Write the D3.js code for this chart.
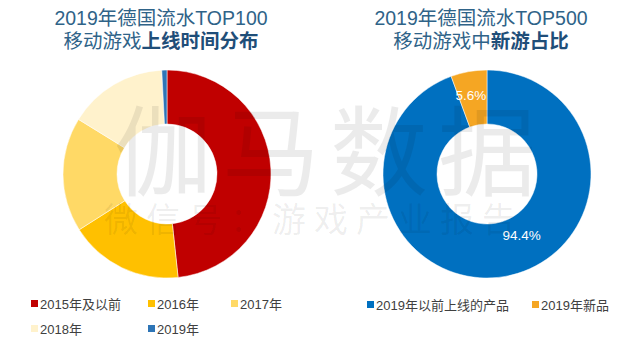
<!DOCTYPE html>
<html>
<head>
<meta charset="utf-8">
<script src="https://cdn.jsdelivr.net/npm/d3@7"></script>
<style>
  body { margin: 0; background: #fff; }
  svg { display: block; }
  text { font-family: "Liberation Sans", "Noto Sans CJK SC", sans-serif; }
</style>
</head>
<body>
<svg id="chart"></svg>
<script>
// left donut: launch year of top100 games
const yearCats = ["2015年及以前", "2016年", "2017年", "2018年", "2019年"];
const yearValues = [48.3, 17.7, 17.8, 15.4, 0.8];
const yearColors = ["#C00000", "#FFC000", "#FFD966", "#FFF2CC", "#2E75B6"];

// right donut: share of new games in top500
const newCats = ["2019年以前上线的产品", "2019年新品"];
const newValues = [94.4, 5.6];
const newLabels = ["94.4%", "5.6%"];
const newColors = ["#0070C0", "#F5A623"];

const width = 640, height = 346;
const svg = d3.select("#chart").attr("width", width).attr("height", height);

const outerR = 104, innerR = 50;
const pie = d3.pie().sort(null).value(d => d.value);
const arc = d3.arc().innerRadius(innerR).outerRadius(outerR);

function drawTitle(cx, line1, plain, bold) {
    const g = svg.append("g");
    g.append("text")
        .attr("x", cx).attr("y", 25)
        .attr("text-anchor", "middle")
        .attr("font-size", 19.5)
        .attr("fill", "#2F6388")
        .text(line1);
    const t = g.append("text")
        .attr("x", cx).attr("y", 48)
        .attr("text-anchor", "middle")
        .attr("font-size", 19.5)
        .attr("fill", "#2F6388");
    t.append("tspan").text(plain);
    t.append("tspan").attr("font-weight", "bold").attr("fill", "#1F4E79").text(bold);
}

function drawDonut(cx, cy, cats, values, colors) {
    const data = cats.map((c, i) => ({name: c, value: values[i], color: colors[i]}));
    const g = svg.append("g").attr("transform", `translate(${cx},${cy})`);
    const arcs = pie(data);
    g.selectAll("path")
        .data(arcs)
        .enter()
        .append("path")
            .attr("d", arc)
            .attr("fill", d => d.data.color)
            .attr("stroke", "#fff")
            .attr("stroke-width", 0.5);
    return {g, arcs};
}

function drawLegend(items, colors, x0, y0, colX, rowH, perRow) {
    const g = svg.append("g");
    items.forEach((name, i) => {
        const col = i % perRow, row = Math.floor(i / perRow);
        const x = x0 + colX[col], y = y0 + row * rowH;
        g.append("rect")
            .attr("x", x).attr("y", y - 4)
            .attr("width", 7).attr("height", 7)
            .attr("fill", colors[i]);
        g.append("text")
            .attr("x", x + 9).attr("y", y + 5)
            .attr("font-size", 13)
            .attr("fill", "#404040")
            .text(name);
    });
}

drawTitle(161, "2019年德国流水TOP100", "移动游戏", "上线时间分布");
drawTitle(481, "2019年德国流水TOP500", "移动游戏中", "新游占比");

drawDonut(167, 174, yearCats, yearValues, yearColors);
const right = drawDonut(487, 174, newCats, newValues, newColors);

// data labels (94.4% sits lower-right, 5.6% near its slice centre)
const labelPos = [
    {angle: 149, r: 71},
    {angle: null, r: 80}
];
right.g.selectAll("text.lbl")
    .data(right.arcs)
    .enter()
    .append("text")
        .attr("class", "lbl")
        .attr("transform", (d, i) => {
            const a = labelPos[i].angle === null ? (d.startAngle + d.endAngle) / 2 : labelPos[i].angle * Math.PI / 180;
            const r = labelPos[i].r;
            return `translate(${r * Math.sin(a) - 2},${-r * Math.cos(a) + 5})`;
        })
        .attr("text-anchor", "middle")
        .attr("font-size", 13.5)
        .attr("fill", "#fff")
        .text((d, i) => newLabels[i]);

drawLegend(yearCats, yearColors, 31, 304, [0, 117, 200], 25, 3);
drawLegend(newCats, newColors, 367, 305, [0, 165], 25, 2);

// watermark
svg.append("text")
    .attr("x", 330).attr("y", 188)
    .attr("text-anchor", "middle")
    .attr("font-size", 98)
    .attr("letter-spacing", 10)
    .attr("fill", "#000")
    .attr("fill-opacity", 0.08)
    .text("伽马数据");
svg.append("text")
    .attr("x", 314).attr("y", 232)
    .attr("text-anchor", "middle")
    .attr("font-size", 34)
    .attr("letter-spacing", 8)
    .attr("fill", "#000")
    .attr("fill-opacity", 0.07)
    .text("微信号：游戏产业报告");
</script>
</body>
</html>
